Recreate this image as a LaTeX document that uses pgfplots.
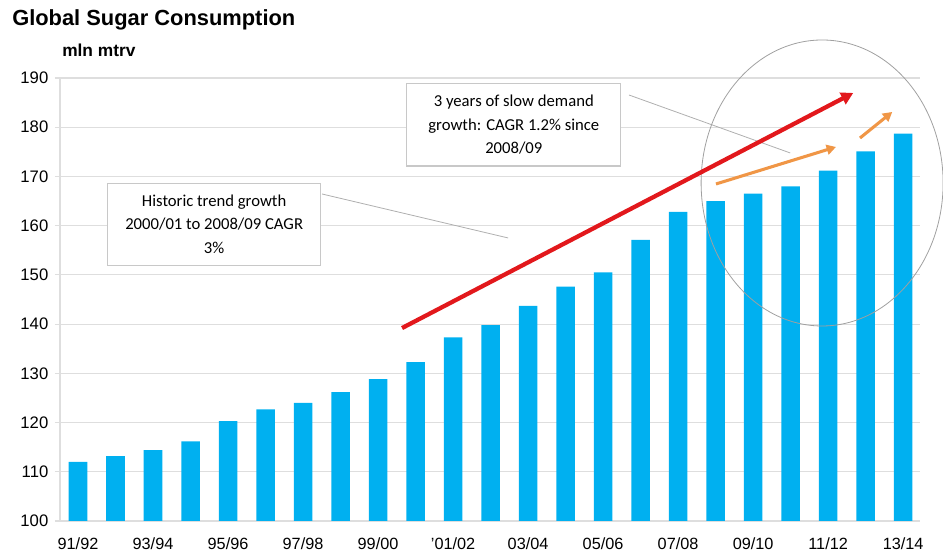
\documentclass[border=0pt]{standalone}
\usepackage{pgfplots}
\pgfplotsset{compat=1.18}
\usepackage{fontspec}
\setmainfont{Liberation Sans}
\newfontfamily\calibri{Carlito}
\usetikzlibrary{arrows.meta}
\definecolor{barblue}{RGB}{0,176,240}
\definecolor{trendred}{RGB}{226,24,28}
\definecolor{sloworange}{RGB}{240,150,70}
\definecolor{gridgray}{RGB}{222,222,222}
\definecolor{boxgray}{RGB}{200,200,200}
\definecolor{leadgray}{RGB}{175,175,175}
\definecolor{circgray}{RGB}{160,160,160}
\begin{document}
\begin{tikzpicture}[x=1pt,y=1pt]
\useasboundingbox (0,0) rectangle (707.25,419.25);
\node[anchor=north west,inner sep=0pt,font=\fontsize{16.4}{19}\selectfont\bfseries] at (9,412.5) {Global Sugar Consumption};
\node[anchor=north west,inner sep=0pt,font=\fontsize{13}{15}\selectfont\bfseries] at (46.5,386.5) {mln mtrv};
\begin{axis}[
  at={(45pt,28.5pt)}, anchor=south west,
  scale only axis, width=645pt, height=332.25pt,
  xmin=-0.48, xmax=22.45, ymin=100, ymax=190,
  ytick={100,110,...,190},
  xtick={0,2,...,22},
  xticklabels={91/92,93/94,95/96,97/98,99/00,'01/02,03/04,05/06,07/08,09/10,11/12,13/14},
  ymajorgrids, grid style={gridgray, line width=0.8pt},
  axis x line*=bottom, axis y line*=left,
  axis line style={gridgray, line width=0.8pt, -},
  xtick style={draw=none},
  ytick style={gridgray, line width=0.8pt},
  major tick length=3.75pt, tick align=outside,
  /pgf/number format/assume math mode=true,
  yticklabel style={font=\fontsize{12.5}{14}\selectfont, text=black, xshift=-1.5pt},
  xticklabel style={font=\fontsize{12.2}{14}\selectfont, text=black, yshift=-5.5pt},
  clip mode=individual,
]
\addplot[ybar, bar width=13.9pt, fill=barblue, draw=none] coordinates {
(0,112.0) (1,113.2) (2,114.4) (3,116.2) (4,120.3) (5,122.7) (6,124.0) (7,126.2)
(8,128.8) (9,132.3) (10,137.3) (11,139.8) (12,143.7) (13,147.6) (14,150.5) (15,157.1)
(16,162.8) (17,165.0) (18,166.5) (19,168.0) (20,171.2) (21,175.1) (22,178.7)};
% leader lines
\draw[leadgray, line width=0.6pt] (axis cs:14.69,186.55) -- (axis cs:18.99,174.77);
\draw[leadgray, line width=0.6pt] (axis cs:6.51,166.43) -- (axis cs:11.47,157.50);
% circle
\draw[circgray, line width=0.6pt] (axis cs:19.84,168.67) ellipse [x radius=90.75pt, y radius=107.25pt];
% arrows
\draw[trendred, line width=3.2pt, -{Triangle[length=9pt,width=9.5pt]}] (axis cs:8.64,139.2) -- (axis cs:20.67,186.96);
\draw[sloworange, line width=2.3pt, -{Triangle[length=7pt,width=7.5pt]}] (axis cs:17.01,168.47) -- (axis cs:20.21,175.99);
\draw[sloworange, line width=2.3pt, -{Triangle[length=7pt,width=7.5pt]}] (axis cs:20.85,177.81) -- (axis cs:21.71,183.10);
% text boxes
\node[draw=boxgray, line width=0.8pt, fill=white, minimum width=160.5pt, minimum height=62pt, align=center, inner sep=2pt,
  font=\calibri\fontsize{12.5}{17.5}\selectfont] at (axis cs:11.62,180.52)
  {3 years of slow demand\\growth: CAGR 1.2\% since\\2008/09};
\node[draw=boxgray, line width=0.8pt, fill=white, minimum width=160pt, minimum height=61.3pt, align=center, inner sep=2pt,
  font=\calibri\fontsize{12.5}{17.5}\selectfont] at (axis cs:3.63,160.30)
  {Historic trend growth\\2000/01 to 2008/09 CAGR\\3\%};
\end{axis}
\end{tikzpicture}
\end{document}
